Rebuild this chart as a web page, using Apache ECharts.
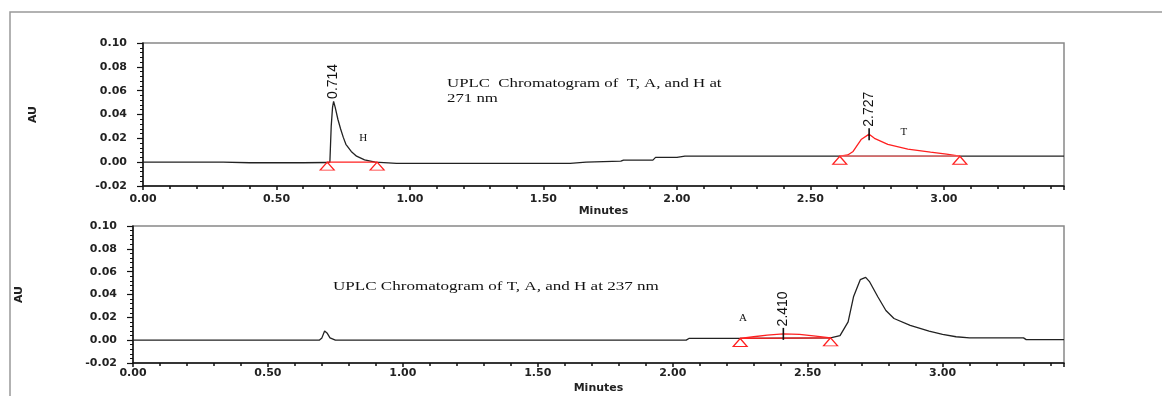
<!DOCTYPE html>
<html>
<head>
<meta charset="utf-8">
<script src="https://cdn.jsdelivr.net/npm/echarts@6/dist/echarts.min.js"></script>
<style>
  html, body { margin: 0; padding: 0; background: #fff; }
  #chroma { width: 1162px; height: 396px; }
</style>
</head>
<body>
<div id="chroma"></div>
<script>
// ---- 271 nm trace (top) ----
var topTime = [0, 0.30, 0.40, 0.60, 0.69, 0.700, 0.705, 0.710, 0.714, 0.72, 0.73, 0.74, 0.75, 0.76, 0.78, 0.80, 0.83, 0.87, 0.95, 1.60, 1.66, 1.79, 1.80, 1.91, 1.92, 2.00, 2.03, 2.61, 3.06, 3.45];
var topAU   = [0, 0, -0.0005, -0.0005, -0.0003, 0, 0.030, 0.046, 0.051, 0.046, 0.036, 0.028, 0.021, 0.015, 0.009, 0.005, 0.002, 0, -0.001, -0.001, 0, 0.0008, 0.0017, 0.0017, 0.004, 0.004, 0.005, 0.005, 0.005, 0.005];
// integrated peak T, drawn red
var topRedTime = [2.61, 2.64, 2.66, 2.69, 2.72, 2.74, 2.79, 2.865, 2.95, 3.01, 3.06];
var topRedAU   = [0.005, 0.006, 0.009, 0.019, 0.0235, 0.020, 0.015, 0.011, 0.0084, 0.0067, 0.005];
// integration baselines (start / end)
var topBaseHTime = [0.69, 0.877];
var topBaseHAU   = [0, 0];
var topBaseTTime = [2.61, 3.06];
var topBaseTAU   = [0.005, 0.005];
// peak apex labels
var topPeakTime  = [0.714, 2.72];
var topPeakAU    = [0.051, 0.0235];
var topPeakText  = ['0.714', '2.727'];
var topNameTime  = [0.825, 2.85];
var topNameAU    = [0.020, 0.025];
var topNameText  = ['H', 'T'];

// ---- 237 nm trace (bottom) ----
var botTime = [0, 0.69, 0.70, 0.71, 0.72, 0.73, 0.75, 2.05, 2.06, 2.25, 2.585, 2.62, 2.65, 2.67, 2.685, 2.695, 2.715, 2.73, 2.76, 2.79, 2.82, 2.88, 2.95, 3.00, 3.05, 3.10, 3.30, 3.31, 3.45];
var botAU   = [0, 0, 0.002, 0.008, 0.006, 0.002, 0, 0, 0.0015, 0.0015, 0.002, 0.004, 0.016, 0.038, 0.047, 0.053, 0.055, 0.051, 0.038, 0.026, 0.019, 0.013, 0.008, 0.005, 0.003, 0.002, 0.002, 0.0005, 0.0005];
var botRedTime = [2.25, 2.30, 2.35, 2.41, 2.47, 2.53, 2.585];
var botRedAU   = [0.0015, 0.003, 0.0045, 0.0055, 0.005, 0.0035, 0.002];
var botBaseATime = [2.25, 2.585];
var botBaseAAU   = [0.0015, 0.002];
var botPeakTime  = [2.41];
var botPeakAU    = [0.0055];
var botPeakText  = ['2.410'];
var botNameTime  = [2.26];
var botNameAU    = [0.019];
var botNameText  = ['A'];

// axes
var xTicks = { min: 0, max: 3.45, interval: 0.5 };
var yTicks = { min: -0.02, max: 0.10, interval: 0.02 };

function zip(xs, ys) {
  return xs.map(function (x, i) { return [x, ys[i]]; });
}

var RED = '#ff2020';
var labelFont = 'DejaVu Sans';

function peakMarks(times, aus, texts, withTick) {
  var out = [];
  for (var i = 0; i < times.length; i++) {
    out.push({
      coord: [times[i], aus[i]],
      symbol: 'circle',
      symbolSize: 1,
      itemStyle: { color: 'rgba(0,0,0,0)' },
      label: {
        show: true,
        formatter: texts[i],
        position: 'top',
        distance: withTick ? 7 : 2,
        rotate: 90,
        align: 'left',
        verticalAlign: 'middle',
        color: '#111',
        fontFamily: 'Liberation Sans',
        fontSize: 14
      }
    });
    if (withTick) {
      out.push({
        coord: [times[i], aus[i]],
        symbol: 'rect',
        symbolSize: [1.6, 12],
        itemStyle: { color: '#111' },
        label: { show: false }
      });
    }
  }
  return out;
}

function nameMarks(times, aus, texts) {
  return times.map(function (t, i) {
    return {
      coord: [t, aus[i]],
      symbol: 'circle',
      symbolSize: 1,
      itemStyle: { color: 'rgba(0,0,0,0)' },
      label: {
        show: true,
        formatter: texts[i],
        position: 'inside',
        color: '#111',
        fontFamily: 'Liberation Serif',
        fontSize: 11
      }
    };
  });
}

function triangleMarks(times, aus) {
  return times.map(function (t, i) {
    return {
      coord: [t, aus[i]],
      symbol: 'triangle',
      symbolSize: [14, 8],
      symbolOffset: [0, 4],
      itemStyle: { color: 'rgba(255,255,255,0)', borderColor: RED, borderWidth: 1.2 },
      label: { show: false }
    };
  });
}

function xAxisCfg(idx, margin, nameGap) {
  return {
    type: 'value',
    gridIndex: idx,
    min: xTicks.min,
    max: xTicks.max,
    interval: xTicks.interval,
    name: 'Minutes',
    nameLocation: 'middle',
    nameGap: nameGap,
    nameTextStyle: { color: '#222', fontFamily: labelFont, fontWeight: 'bold', fontSize: 11 },
    axisLine: { onZero: false, lineStyle: { color: '#111', width: 1.5 } },
    axisTick: { length: 4, lineStyle: { color: '#111', width: 1.5 } },
    minorTick: { show: true, splitNumber: 5, length: 3, lineStyle: { color: '#111', width: 1.5 } },
    splitLine: { show: false },
    axisLabel: {
      showMaxLabel: false,
      margin: margin,
      color: '#222',
      fontFamily: labelFont,
      fontWeight: 'bold',
      fontSize: 11,
      formatter: function (v) { return v.toFixed(2); }
    }
  };
}

function yAxisCfg(idx, nameGap) {
  return {
    type: 'value',
    gridIndex: idx,
    min: yTicks.min,
    max: yTicks.max,
    interval: yTicks.interval,
    name: 'AU',
    nameLocation: 'middle',
    nameRotate: 90,
    nameGap: nameGap,
    nameTextStyle: { color: '#222', fontFamily: labelFont, fontWeight: 'bold', fontSize: 11 },
    axisLine: { onZero: false, lineStyle: { color: '#111', width: 1.5 } },
    axisTick: { length: 6, lineStyle: { color: '#111', width: 1.2 } },
    minorTick: { show: true, splitNumber: 5, length: 3, lineStyle: { color: '#111', width: 1 } },
    splitLine: { show: false },
    axisLabel: {
      margin: 16,
      color: '#222',
      fontFamily: labelFont,
      fontWeight: 'bold',
      fontSize: 11,
      formatter: function (v) { return v.toFixed(2); }
    }
  };
}

function trace(xi, data, color, z, extra) {
  var s = {
    type: 'line',
    xAxisIndex: xi,
    yAxisIndex: xi,
    data: data,
    symbol: 'none',
    z: z,
    lineStyle: { color: color, width: 1.3 }
  };
  if (extra) s.markPoint = { animation: false, data: extra };
  return s;
}

var option = {
  animation: false,
  backgroundColor: '#fff',
  grid: [
    { left: 143, right: 98, top: 43, height: 143, show: true, borderColor: '#888', borderWidth: 1.5 },
    { left: 133, right: 98, top: 226, height: 137, show: true, borderColor: '#888', borderWidth: 1.5 }
  ],
  xAxis: [xAxisCfg(0, 8, 20), xAxisCfg(1, 5, 20)],
  yAxis: [yAxisCfg(0, 104), yAxisCfg(1, 108)],
  series: [
    trace(0, zip(topTime, topAU), '#222', 2,
      peakMarks(topPeakTime.slice(0, 1), topPeakAU.slice(0, 1), topPeakText.slice(0, 1), false)
        .concat(nameMarks(topNameTime, topNameAU, topNameText))),
    trace(0, zip(topRedTime, topRedAU), RED, 3,
      peakMarks(topPeakTime.slice(1), topPeakAU.slice(1), topPeakText.slice(1), true)),
    trace(0, zip(topBaseHTime, topBaseHAU), RED, 3, triangleMarks(topBaseHTime, topBaseHAU)),
    trace(0, zip(topBaseTTime, topBaseTAU), '#ff7070', 3, triangleMarks(topBaseTTime, topBaseTAU)),

    trace(1, zip(botTime, botAU), '#222', 2, null),
    trace(1, zip(botRedTime, botRedAU), RED, 3,
      peakMarks(botPeakTime, botPeakAU, botPeakText, true)
        .concat(nameMarks(botNameTime, botNameAU, botNameText))),
    trace(1, zip(botBaseATime, botBaseAAU), RED, 3, triangleMarks(botBaseATime, botBaseAAU))
  ],
  graphic: [
    // outer frame (left and top edges)
    { type: 'polyline', shape: { points: [[10, 396], [10, 12], [1162, 12]] }, style: { stroke: '#999', lineWidth: 1.5, fill: null } },
    {
      type: 'text', left: 447, top: 76, scaleX: 1.4,
      style: { text: 'UPLC  Chromatogram of  T, A, and H at\n271 nm', fill: '#111', font: '12px "Liberation Serif"', lineHeight: 15 }
    },
    {
      type: 'text', left: 333, top: 281, scaleX: 1.42,
      style: { text: 'UPLC Chromatogram of T, A, and H at 237 nm', fill: '#111', font: '12px "Liberation Serif"' }
    }
  ]
};

var chart = echarts.init(document.getElementById('chroma'));
chart.setOption(option);
window.addEventListener('resize', function () { chart.resize(); });
</script>
</body>
</html>
